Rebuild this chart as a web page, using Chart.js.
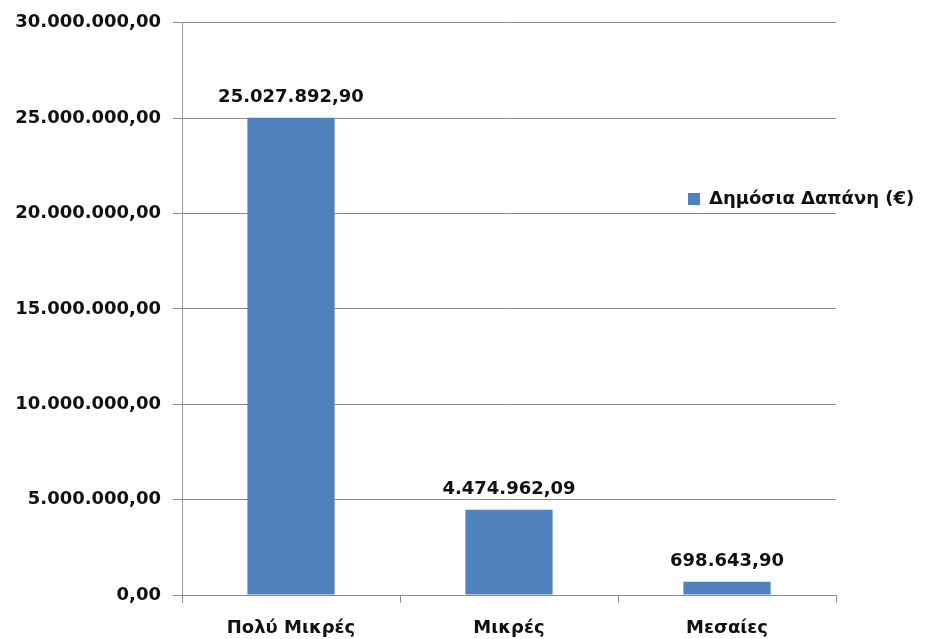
<!DOCTYPE html>
<html>
<head>
<meta charset="utf-8">
<script src="https://cdn.jsdelivr.net/npm/chart.js@4.4.0/dist/chart.umd.min.js"></script>
<style>
    html, body { margin: 0; padding: 0; background: #fff; }
    #wrap { width: 926px; height: 639px; }
</style>
</head>
<body>
<div id="wrap"><canvas id="barChart"></canvas></div>
<script>
const categories = ['Πολύ Μικρές', 'Μικρές', 'Μεσαίες'];
const spending = [25027892.90, 4474962.09, 698643.90];
const seriesLabel = 'Δημόσια Δαπάνη (€)';
const yMax = 30000000;
const yStep = 5000000;

const FONT = 'DejaVu Sans';
const barColor = '#4F81BD';

// greek number format: 25.027.892,90
function fmt(v) {
    const parts = v.toFixed(2).split('.');
    const intPart = parts[0].replace(/\B(?=(\d{3})+(?!\d))/g, '.');
    return intPart + ',' + parts[1];
}

const valueLabels = {
    id: 'valueLabels',
    afterDatasetsDraw(chart) {
        const ctx = chart.ctx;
        const meta = chart.getDatasetMeta(0);
        ctx.save();
        ctx.font = `bold 18px "${FONT}"`;
        ctx.fillStyle = '#111';
        ctx.textAlign = 'center';
        ctx.textBaseline = 'middle';
        meta.data.forEach((bar, i) => {
            ctx.fillText(fmt(spending[i]), bar.x, bar.y - 20);
        });
        ctx.restore();
    }
};

const sideLegend = {
    id: 'sideLegend',
    afterDraw(chart) {
        const ctx = chart.ctx;
        ctx.save();
        ctx.fillStyle = barColor;
        ctx.fillRect(688, 193, 12, 12);
        ctx.font = `bold 18px "${FONT}"`;
        ctx.fillStyle = '#111';
        ctx.textAlign = 'left';
        ctx.textBaseline = 'middle';
        ctx.fillText(chart.data.datasets[0].label, 709, 199);
        ctx.restore();
    }
};

const ctx = document.getElementById('barChart').getContext('2d');
new Chart(ctx, {
    type: 'bar',
    data: {
        labels: categories,
        datasets: [{
            label: seriesLabel,
            data: spending,
            backgroundColor: barColor,
            borderWidth: 0,
            categoryPercentage: 1,
            barPercentage: 0.4
        }]
    },
    options: {
        responsive: true,
        maintainAspectRatio: false,
        animation: false,
        layout: { padding: { top: 20, right: 90, left: 0, bottom: 0 } },
        plugins: {
            legend: { display: false },
            tooltip: { enabled: false }
        },
        scales: {
            y: {
                min: 0,
                max: yMax,
                border: { color: '#9a9a9a', width: 1 },
                grid: { color: '#8c8c8c', tickLength: 9, lineWidth: 1 },
                ticks: {
                    stepSize: yStep,
                    padding: 12,
                    color: '#111',
                    font: { family: FONT, size: 18, weight: 'bold' },
                    callback: v => fmt(v)
                },
                afterFit: s => { s.width = 182; }
            },
            x: {
                border: { color: '#8c8c8c', width: 1 },
                grid: { offset: true, drawOnChartArea: false, color: '#8c8c8c', tickLength: 8 },
                ticks: {
                    padding: 15,
                    color: '#111',
                    font: { family: FONT, size: 18, weight: 'bold' }
                },
                afterFit: s => { s.height = 44; }
            }
        }
    },
    plugins: [valueLabels, sideLegend]
});
</script>
</body>
</html>
